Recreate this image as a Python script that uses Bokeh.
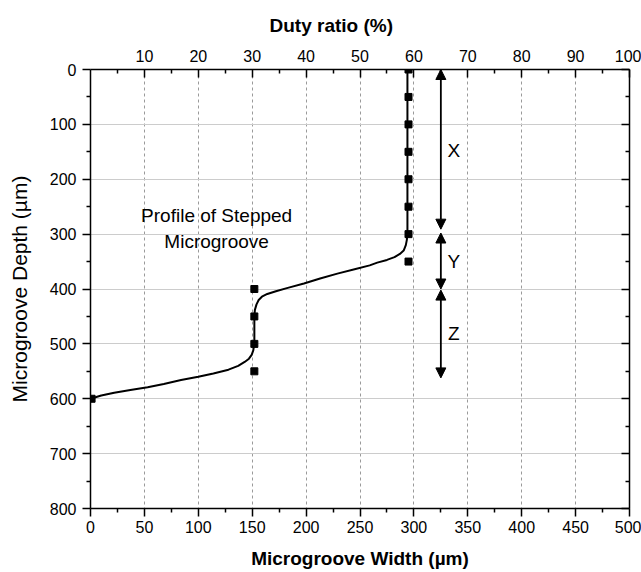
from bokeh.plotting import figure
from bokeh.models import (Range1d, LinearAxis, FixedTicker, Arrow, NormalHead,
                          ColumnDataSource)
from bokeh.core.properties import value
from bokeh.embed import file_html
from bokeh.resources import INLINE

# ---- data ----
marker_width = [295, 295, 295, 295, 295, 295, 295, 295, 152, 152, 152, 152, 1]
marker_depth = [0, 50, 100, 150, 200, 250, 300, 350, 400, 450, 500, 550, 600]

curve_width = [294, 294, 293.5, 292.5, 290.5, 287, 282, 275, 266, 259, 245, 229, 213, 198,
               183, 172, 164, 159, 156, 154, 152.5, 152, 152, 151, 149.5, 147, 143, 137,
               128, 114, 100, 84, 68, 53, 37, 22, 10, 0]
curve_depth = [0, 295, 310, 320, 330, 336, 342, 347, 352, 357, 364, 372, 381, 390,
               398, 404, 409, 414, 420, 428, 438, 450, 500, 512, 520, 527, 533, 540,
               547, 554, 560, 566, 573, 579, 584, 589, 594, 600]

zone_names = ["X", "Y", "Z"]
zone_start = [0, 298, 402]
zone_end = [291, 400, 562]
zone_label_depth = [148, 350, 482]
zone_x = [325, 325, 325]

note_lines = ["Profile of Stepped", "Microgroove"]
note_depth = [266, 313]

x_ticks = [0, 50, 100, 150, 200, 250, 300, 350, 400, 450, 500]
x_minor = [25, 75, 125, 175, 225, 275, 325, 375, 425, 475]
duty_ticks = [10, 20, 30, 40, 50, 60, 70, 80, 90, 100]
duty_minor = [5, 15, 25, 35, 45, 55, 65, 75, 85, 95]
y_ticks = [0, 100, 200, 300, 400, 500, 600, 700, 800]
y_minor = [50, 150, 250, 350, 450, 550, 650, 750]

FONT = "Liberation Sans"

p = figure(width=641, height=572, x_range=Range1d(0, 500), y_range=Range1d(800, 0),
           output_backend="svg", toolbar_location=None,
           min_border_left=90, min_border_right=12, min_border_top=69, min_border_bottom=64)
p.extra_x_ranges = {"duty": Range1d(0, 100)}
p.outline_line_color = None
p.background_fill_color = "white"
p.border_fill_color = "white"

# top axis title as the plot title
p.title.text = "Duty ratio (%)"
p.title.text_font = FONT
p.title.text_font_size = "19px"
p.title.text_font_style = "bold"
p.title.text_color = "black"
p.title.align = "left"
p.title.offset = 179
p.title.standoff = 22

def style_axis(ax, tin, tout):
    ax.axis_line_color = "black"
    ax.axis_line_width = 1.5
    ax.major_tick_line_color = "black"
    ax.major_tick_line_width = 1.5
    ax.minor_tick_line_color = "black"
    ax.minor_tick_line_width = 1.5
    ax.major_tick_in = tin[0]
    ax.major_tick_out = tout[0]
    ax.minor_tick_in = tin[1]
    ax.minor_tick_out = tout[1]
    ax.major_label_text_font = FONT
    ax.major_label_text_font_size = "16px"
    ax.major_label_text_color = "black"
    ax.axis_label_text_font = FONT
    ax.axis_label_text_color = "black"

# bottom axis
xa = p.xaxis[0]
xa.ticker = FixedTicker(ticks=x_ticks, minor_ticks=x_minor)
style_axis(xa, (0, 0), (8, 4))
xa.major_label_standoff = 4
xa.axis_label = "Microgroove Width (\u00b5m)"
xa.axis_label_text_font_size = "19px"
xa.axis_label_text_font_style = "bold"
xa.axis_label_standoff = 12

# left axis
ya = p.yaxis[0]
ya.ticker = FixedTicker(ticks=y_ticks, minor_ticks=y_minor)
style_axis(ya, (0, 0), (8, 4))
ya.major_label_standoff = 6
ya.axis_label = "Microgroove Depth (\u00b5m)"
ya.axis_label_text_font_size = "21px"
ya.axis_label_text_font_style = "normal"
ya.axis_label_standoff = 16

# top axis (duty ratio)
ta = LinearAxis(x_range_name="duty", ticker=FixedTicker(ticks=duty_ticks, minor_ticks=duty_minor))
style_axis(ta, (8, 4), (0, 0))
ta.major_label_standoff = 8
p.add_layout(ta, "above")

# right axis (no labels)
ra = LinearAxis(ticker=FixedTicker(ticks=y_ticks, minor_ticks=y_minor),
                major_label_overrides={t: "" for t in y_ticks})
style_axis(ra, (8, 4), (0, 0))
ra.major_label_standoff = 0
p.add_layout(ra, "right")

# grids
p.xgrid.ticker = FixedTicker(ticks=x_ticks)
p.xgrid.grid_line_color = "#9a9a9a"
p.xgrid.grid_line_dash = "3 3"
p.xgrid.grid_line_width = 1
p.ygrid.ticker = FixedTicker(ticks=y_ticks)
p.ygrid.grid_line_color = "#cccccc"
p.ygrid.grid_line_width = 1

# curve and markers
p.line(curve_width, curve_depth, line_color="black", line_width=2)
p.scatter(marker_width, marker_depth, marker="square", size=7, color="black")

# zone arrows
zsrc = ColumnDataSource(dict(x=zone_x, y0=zone_start, y1=zone_end))
p.add_layout(Arrow(source=zsrc, x_start="x", y_start="y0", x_end="x", y_end="y1",
                   line_color="black", line_width=1.8,
                   start=NormalHead(size=10, fill_color="black", line_color="black"),
                   end=NormalHead(size=10, fill_color="black", line_color="black")))
p.text(x=[337, 337, 337], y=zone_label_depth, text=zone_names, text_font=value(FONT),
       text_font_size="19px", text_align="center", text_baseline="middle", text_color="black")

# note text
p.text(x=[117, 117], y=note_depth, text=note_lines, text_font=value(FONT),
       text_font_size="19px", text_align="center", text_baseline="middle", text_color="black")

open("out.html", "w").write(file_html(p, INLINE))
